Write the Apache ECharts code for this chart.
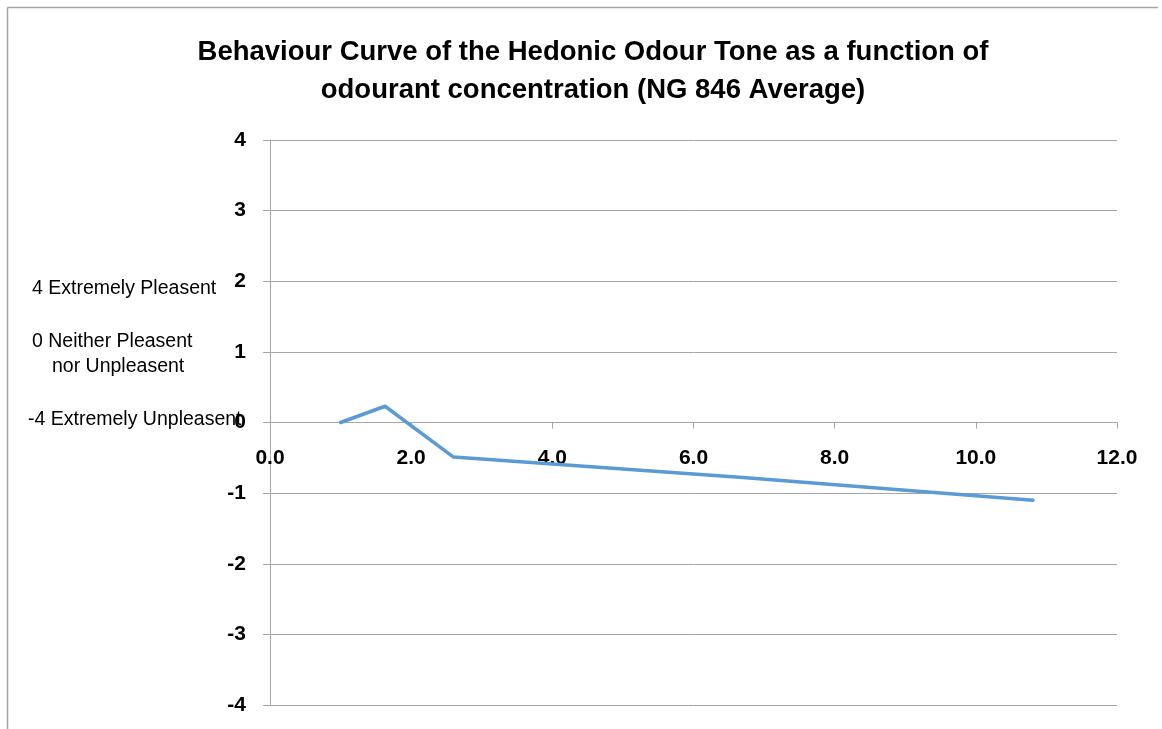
<!DOCTYPE html>
<html>
<head>
<meta charset="utf-8">
<script src="https://cdn.jsdelivr.net/npm/echarts@6/dist/echarts.min.js"></script>
<style>
html,body{margin:0;padding:0;background:#fff;}
#chart{width:1162px;height:729px;}
</style>
</head>
<body>
<div id="chart"></div>
<script>
const titleLines = ["Behaviour Curve of the Hedonic Odour Tone as a function of", "odourant concentration (NG 846 Average)"];
const concentration = [1.0, 1.63, 2.6, 6.7, 10.81];
const hedonicTone = [0, 0.23, -0.49, -0.78, -1.10];
const scaleNotes = ["4 Extremely Pleasent", "0 Neither Pleasent", "nor Unpleasent", "-4 Extremely Unpleasent"];

const FONT = "'Liberation Sans', Arial, sans-serif";
const chart = echarts.init(document.getElementById('chart'), null, {renderer: 'canvas'});
const data = concentration.map((x, i) => [x, hedonicTone[i]]);

chart.setOption({
  animation: false,
  backgroundColor: '#ffffff',
  title: {
    text: titleLines.join('\n'),
    left: 588,
    top: 28,
    textAlign: 'center',
    textStyle: {fontFamily: FONT, fontWeight: 'bold', fontSize: 27.5, lineHeight: 38, color: '#000'}
  },
  grid: {left: 270, right: 45, top: 140, bottom: 24, containLabel: false, outerBoundsMode: 'none'},
  xAxis: {
    type: 'value',
    position: 'bottom',
    offset: -282.5,
    min: 0, max: 12, interval: 2,
    axisLine: {onZero: false, lineStyle: {color: '#a6a6a6', width: 1}},
    axisTick: {show: true, inside: false, length: 6, lineStyle: {color: '#a6a6a6'}},
    splitLine: {show: false},
    axisLabel: {margin: 25, fontFamily: FONT, fontWeight: 'bold', fontSize: 21, color: '#000',
      formatter: v => v.toFixed(1)}
  },
  yAxis: {
    type: 'value',
    min: -4, max: 4, interval: 1,
    axisLine: {show: true, onZero: false, lineStyle: {color: '#a6a6a6', width: 1}},
    axisTick: {show: true, inside: false, length: 7, lineStyle: {color: '#a6a6a6'}},
    splitLine: {show: true, lineStyle: {color: '#a6a6a6', width: 1}},
    axisLabel: {margin: 24, fontFamily: FONT, fontWeight: 'bold', fontSize: 21, color: '#000'}
  },
  series: [{
    type: 'line',
    data: data,
    showSymbol: false,
    symbol: 'none',
    lineStyle: {color: '#5b9bd5', width: 3.5, cap: 'round', join: 'round'},
    z: 5
  }],
  graphic: [
    {type: 'line', shape: {x1: 7.5, y1: 7.5, x2: 1158, y2: 7.5}, style: {stroke: '#a6a6a6', lineWidth: 1.5}},
    {type: 'line', shape: {x1: 7.5, y1: 7.5, x2: 7.5, y2: 729}, style: {stroke: '#a6a6a6', lineWidth: 1.5}},
    {type: 'text', x: 32, y: 289, style: {text: scaleNotes[0], font: '19.5px ' + FONT, fill: '#000', verticalAlign: 'middle'}},
    {type: 'text', x: 32, y: 342, style: {text: scaleNotes[1], font: '19.5px ' + FONT, fill: '#000', verticalAlign: 'middle'}},
    {type: 'text', x: 52, y: 367, style: {text: scaleNotes[2], font: '19.5px ' + FONT, fill: '#000', verticalAlign: 'middle'}},
    {type: 'text', x: 28, y: 420, style: {text: scaleNotes[3], font: '19.5px ' + FONT, fill: '#000', verticalAlign: 'middle'}, z: 10}
  ]
});
</script>
</body>
</html>
